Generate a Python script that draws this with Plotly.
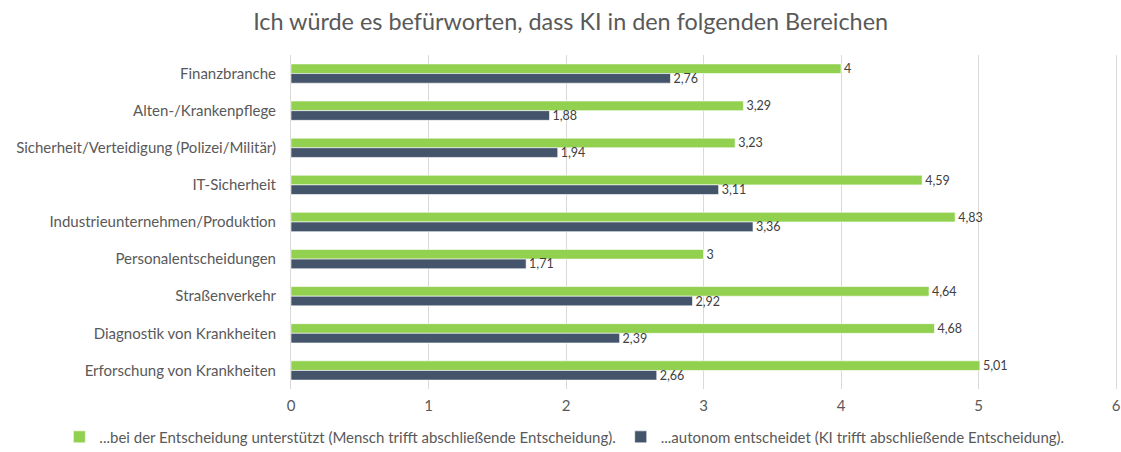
import plotly.graph_objects as go

categories = [
    "Finanzbranche",
    "Alten-/Krankenpflege",
    "Sicherheit/Verteidigung (Polizei/Militär)",
    "IT-Sicherheit",
    "Industrieunternehmen/Produktion",
    "Personalentscheidungen",
    "Straßenverkehr",
    "Diagnostik von Krankheiten",
    "Erforschung von Krankheiten",
]
unterstuetzt = [4, 3.29, 3.23, 4.59, 4.83, 3, 4.64, 4.68, 5.01]
autonom = [2.76, 1.88, 1.94, 3.11, 3.36, 1.71, 2.92, 2.39, 2.66]
series_names = [
    "...bei der Entscheidung unterstützt (Mensch trifft abschließende Entscheidung).",
    "...autonom entscheidet (KI trifft abschließende Entscheidung).",
]
x_ticks = [0, 1, 2, 3, 4, 5, 6]
title = "Ich würde es befürworten, dass KI in den folgenden Bereichen"

FONT = "Lato"
GREEN = "#92D050"
DARK = "#44546A"


def fmt(v):
    return f"{v:g}".replace(".", ",")


fig = go.Figure()
for name, vals, color in [(series_names[0], unterstuetzt, GREEN), (series_names[1], autonom, DARK)]:
    fig.add_trace(go.Bar(
        y=categories, x=vals, name=name, orientation="h",
        marker=dict(color=color, line=dict(color="white", width=0.6)),
        text=[fmt(v) for v in vals], textposition="outside",
        textfont=dict(family=FONT, size=12.5, color="#404040"),
        constraintext="none",
        cliponaxis=False,
    ))

# x range is padded by ~2px per side so the gridlines at 0 and 6 are drawn.
fig.update_layout(
    width=1121, height=452,
    paper_bgcolor="white", plot_bgcolor="white",
    barmode="group", bargap=0.48, bargroupgap=0,
    margin=dict(l=289, r=3, t=55, b=63, autoexpand=False),
    title=dict(text=title, x=0.509, xanchor="center", y=0.951, yanchor="middle",
               font=dict(family=FONT, size=23.4, color="#595959")),
    font=dict(family=FONT, color="#595959"),
    xaxis=dict(range=[-0.0145, 6.0145], tickvals=x_ticks, showgrid=True, gridcolor="#D9D9D9",
               gridwidth=1, zeroline=False, showline=False, ticks="",
               automargin=False, ticklabelstandoff=6, ticklabeloverflow="allow",
               tickfont=dict(family=FONT, size=15, color="#595959")),
    yaxis=dict(autorange="reversed", showgrid=False, zeroline=False, showline=False,
               ticks="", ticklabelstandoff=12, automargin=False,
               tickfont=dict(family=FONT, size=15, color="#595959")),
    legend=dict(orientation="h", xref="paper", yref="paper",
                x=-0.277, xanchor="left", y=-0.144, yanchor="middle",
                font=dict(family=FONT, size=15, color="#595959"),
                itemwidth=30, traceorder="normal"),
    showlegend=True,
)

fig.write_html(
    "out.html",
    config={"displayModeBar": False},
    post_script="document.body.style.margin='0';document.body.style.overflow='hidden';",
)
